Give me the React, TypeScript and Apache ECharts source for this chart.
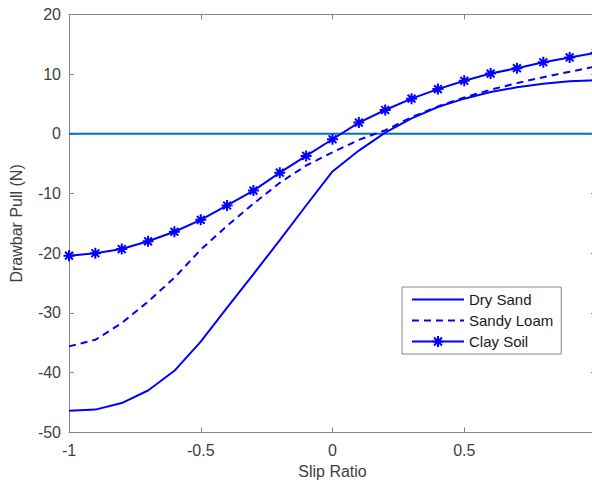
import React, { useEffect, useRef } from "react";
import * as echarts from "echarts";

// Slip ratio sample points
const slipRatio = [
  -1, -0.9, -0.8, -0.7, -0.6, -0.5, -0.4, -0.3, -0.2, -0.1, 0,
  0.1, 0.2, 0.3, 0.4, 0.5, 0.6, 0.7, 0.8, 0.9, 1,
];

// Drawbar pull (N) per soil type
const drySand = [
  -46.4, -46.2, -45.1, -43.0, -39.7, -34.8, -29.1, -23.5, -17.8, -12.0, -6.3,
  -2.8, 0.2, 2.6, 4.5, 5.9, 7.0, 7.8, 8.4, 8.8, 9.0,
];
const sandyLoam = [
  -35.6, -34.5, -31.7, -28.1, -24.1, -19.4, -15.4, -11.7, -8.2, -5.3, -3.1,
  -1.0, 0.6, 2.8, 4.6, 6.1, 7.4, 8.5, 9.5, 10.4, 11.3,
];
const claySoil = [
  -20.4, -20.0, -19.3, -18.0, -16.4, -14.4, -12.0, -9.5, -6.5, -3.7, -0.9,
  1.9, 4.0, 5.9, 7.5, 8.9, 10.1, 11.0, 12.0, 12.8, 13.6,
];

const seriesNames = ["Dry Sand", "Sandy Loam", "Clay Soil"];
const xTicks = [-1, -0.5, 0, 0.5, 1];
const yRange = [-50, 20];

const BLUE = "#0000ff";
const AXIS = "#868686";
const TEXT = "#404040";
const FONT = "'Liberation Sans', Arial, sans-serif";

const ASTERISK = "path://M0,-10L0,10M-10,0L10,0M-7.1,-7.1L7.1,7.1M-7.1,7.1L7.1,-7.1";

const pairs = (ys: number[]) => slipRatio.map((x, i) => [x, ys[i]]);

export default function App() {
  const ref = useRef<HTMLDivElement>(null);

  useEffect(() => {
    if (!ref.current) return;
    const chart = echarts.init(ref.current, null, { renderer: "svg" });

    const axisLine = { show: true, onZero: false, lineStyle: { color: AXIS, width: 1 } };
    const axisTick = { show: true, inside: true, length: 5, lineStyle: { color: AXIS } };

    chart.setOption({
      animation: false,
      backgroundColor: "#ffffff",
      textStyle: { fontFamily: FONT },
      grid: { left: 67, right: 4, top: 14.5, bottom: 52.7, containLabel: false },
      xAxis: [
        {
          type: "value",
          min: xTicks[0],
          max: xTicks[xTicks.length - 1],
          interval: 0.5,
          name: "Slip Ratio",
          nameLocation: "middle",
          nameGap: 27,
          nameTextStyle: { color: TEXT, fontSize: 16, fontFamily: FONT },
          axisLine,
          axisTick,
          splitLine: { show: false },
          axisLabel: {
            color: TEXT,
            fontSize: 16,
            fontFamily: FONT,
            margin: 10,
            showMaxLabel: false,
            formatter: (v: number) => String(v),
          },
        },
        {
          type: "value",
          position: "top",
          min: xTicks[0],
          max: xTicks[xTicks.length - 1],
          interval: 0.5,
          axisLine,
          axisTick,
          axisLabel: { show: false },
          splitLine: { show: false },
        },
      ],
      yAxis: [
        {
          type: "value",
          min: yRange[0],
          max: yRange[1],
          interval: 10,
          name: "Drawbar Pull (N)",
          nameLocation: "middle",
          nameGap: 45,
          nameTextStyle: { color: TEXT, fontSize: 16, fontFamily: FONT },
          axisLine,
          axisTick,
          splitLine: { show: false },
          axisLabel: { color: TEXT, fontSize: 16, fontFamily: FONT, margin: 8 },
        },
        {
          type: "value",
          position: "right",
          min: yRange[0],
          max: yRange[1],
          interval: 10,
          axisLine,
          axisTick,
          axisLabel: { show: false },
          splitLine: { show: false },
        },
      ],
      legend: {
        data: [
          { name: seriesNames[0], itemStyle: { opacity: 0 } },
          { name: seriesNames[1], itemStyle: { opacity: 0 } },
          { name: seriesNames[2] },
        ],
        orient: "vertical",
        left: 402,
        top: 287,
        itemWidth: 52,
        itemHeight: 14,
        itemGap: 6,
        padding: [5, 8, 5, 9],
        borderColor: AXIS,
        borderWidth: 1,
        backgroundColor: "#ffffff",
        textStyle: { color: "#1a1a1a", fontSize: 15, fontFamily: FONT },
      },
      series: [
        {
          name: "zero",
          type: "line",
          data: [[-1, 0], [1, 0]],
          symbol: "none",
          lineStyle: { color: "#0072bd", width: 2 },
          itemStyle: { color: "#0072bd" },
          silent: true,
        },
        {
          name: seriesNames[0],
          type: "line",
          data: pairs(drySand),
          symbol: "none",
          lineStyle: { color: BLUE, width: 2 },
          itemStyle: { color: BLUE },
        },
        {
          name: seriesNames[1],
          type: "line",
          data: pairs(sandyLoam),
          symbol: "none",
          lineStyle: { color: BLUE, width: 2, type: [7, 5] },
          itemStyle: { color: BLUE },
        },
        {
          name: seriesNames[2],
          type: "line",
          data: pairs(claySoil),
          symbol: ASTERISK,
          symbolSize: 11,
          showSymbol: true,
          lineStyle: { color: BLUE, width: 2 },
          itemStyle: { color: BLUE, borderColor: BLUE, borderWidth: 2 },
        },
      ],
    });

    return () => chart.dispose();
  }, []);

  return (
    <div
      ref={ref}
      style={{ position: "fixed", left: 0, top: 0, width: 600, height: 485, overflow: "hidden" }}
    />
  );
}
